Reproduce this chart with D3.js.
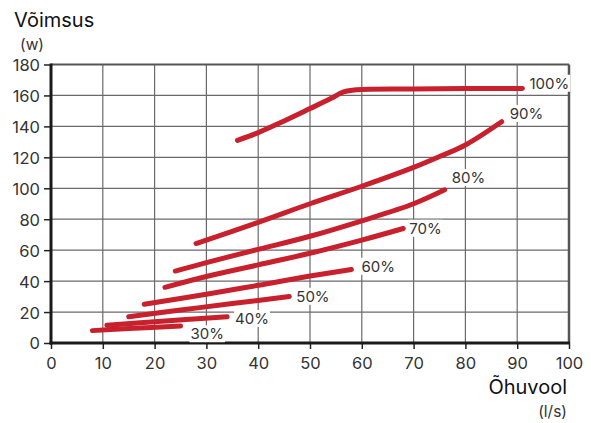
<!DOCTYPE html>
<html><head><meta charset="utf-8">
<script src="https://cdn.jsdelivr.net/npm/d3@7"></script>
<style>
html,body{margin:0;padding:0;background:#fff;}
svg{display:block;font-family:Inter,"Open Sans",sans-serif;}
</style></head>
<body><svg id="c" width="591" height="423"></svg>
<script>
// ---- data ----
const xTicks = [0,10,20,30,40,50,60,70,80,90,100];
const yTicks = [0,20,40,60,80,100,120,140,160,180];
const seriesNames = ["100%","90%","80%","70%","60%","50%","40%","30%"];
const s100 = [[36,131],[40,136],[45,143.5],[50,151.5],[54,158],[56.5,162.3],[59,163.7],[70,164.2],[80,164.5],[91,164.5]];
const s90  = [[28,64.3],[40,78],[50,90],[60,101.3],[70,113.5],[75,120.5],[80,128],[87,143]];
const s80  = [[24,46.5],[30,52],[40,60.5],[50,69],[60,79],[70,90],[76,99]];
const s70  = [[22,36],[30,43],[40,50.5],[50,58],[60,66.5],[68,74]];
const s60  = [[18,25],[30,31.5],[40,37.3],[50,43.3],[58,47.5]];
const s50  = [[15,17],[25,21.3],[35,25.5],[46,30]];
const s40  = [[10.8,11.5],[20,13.8],[34,17]];
const s30  = [[8,8],[15,9.3],[25,11]];
const seriesValues = [s100,s90,s80,s70,s60,s50,s40,s30];
// label offsets (px) from the line end
const labelOffsets = [[7,-5],[8,-8],[7,-12],[6,0],[10,-3],[7,0],[8,2],[10,8]];

(function(){
const svg = d3.select("#c");
const mL=51, mR=569, mT=64.5, mB=343;
const x = d3.scaleLinear().domain([0,100]).range([mL,mR]);
const y = d3.scaleLinear().domain([0,180]).range([mB,mT]);
const txt = "#333";

// grid
svg.append("g").selectAll("line").data(xTicks.slice(1,-1)).join("line")
  .attr("x1",d=>x(d)).attr("x2",d=>x(d)).attr("y1",mT).attr("y2",mB)
  .attr("stroke","#6a6a6a").attr("stroke-width",1.2);
svg.append("g").selectAll("line").data(yTicks.slice(1,-1)).join("line")
  .attr("y1",d=>y(d)).attr("y2",d=>y(d)).attr("x1",mL).attr("x2",mR)
  .attr("stroke","#6a6a6a").attr("stroke-width",1.2);
// top / right border
svg.append("line").attr("x1",mL).attr("x2",mR).attr("y1",mT).attr("y2",mT).attr("stroke","#555").attr("stroke-width",2);
svg.append("line").attr("x1",mR).attr("x2",mR).attr("y1",mT).attr("y2",mB).attr("stroke","#555").attr("stroke-width",2.5);

// axes
const xAxis = d3.axisBottom(x).tickValues(xTicks).tickSize(6).tickPadding(4);
const gx = svg.append("g").attr("transform",`translate(0,${mB})`).call(xAxis);
const yAxis = d3.axisLeft(y).tickValues(yTicks).tickSize(7).tickPadding(4);
const gy = svg.append("g").attr("transform",`translate(${mL},0)`).call(yAxis);
[gx,gy].forEach(g=>{
  g.select(".domain").remove();
  g.selectAll(".tick line").attr("stroke","#222").attr("stroke-width",1.5);
  g.selectAll(".tick text").attr("font-family","Inter").attr("font-size",16.5).attr("fill",txt);
});
gx.selectAll(".tick text").attr("dy","0.95em");
gy.selectAll(".tick text").attr("dy","0.36em");
svg.append("line").attr("x1",mL).attr("x2",mL).attr("y1",mT-1).attr("y2",mB+1.5).attr("stroke","#1a1a1a").attr("stroke-width",3);
svg.append("line").attr("x1",mL-1.5).attr("x2",mR+1).attr("y1",mB).attr("y2",mB).attr("stroke","#1a1a1a").attr("stroke-width",3);

// lines
const line = d3.line().x(d=>x(d[0])).y(d=>y(d[1])).curve(d3.curveCatmullRom.alpha(0.5));
svg.append("g").selectAll("path").data(seriesValues).join("path")
  .attr("d",line).attr("fill","none").attr("stroke","#c8202c")
  .attr("stroke-width",5).attr("stroke-linecap","round").attr("stroke-linejoin","round");

// labels
seriesValues.forEach((s,i)=>{
  const e = s[s.length-1];
  const lx = x(e[0])+labelOffsets[i][0], ly = y(e[1])+labelOffsets[i][1];
  const g = svg.append("g");
  const t = g.append("text").attr("x",lx).attr("y",ly).attr("dy","0.35em")
    .attr("font-size",15).attr("fill","#333").text(seriesNames[i]);
  const b = t.node().getBBox();
  g.insert("rect","text").attr("x",b.x-1).attr("y",b.y+1).attr("width",b.width+2).attr("height",b.height-2).attr("fill","#fff");
});

// titles
svg.append("text").attr("x",14).attr("y",27).attr("font-size",20).attr("fill","#111").text("Võimsus");
svg.append("text").attr("x",20).attr("y",50).attr("font-size",15.5).attr("fill","#333").text("(w)");
svg.append("text").attr("x",567).attr("y",394).attr("text-anchor","end").attr("font-size",20).attr("fill","#111").text("Õhuvool");
svg.append("text").attr("x",567).attr("y",417).attr("text-anchor","end").attr("font-size",15.5).attr("fill","#333").text("(l/s)");
})();
</script></body></html>
